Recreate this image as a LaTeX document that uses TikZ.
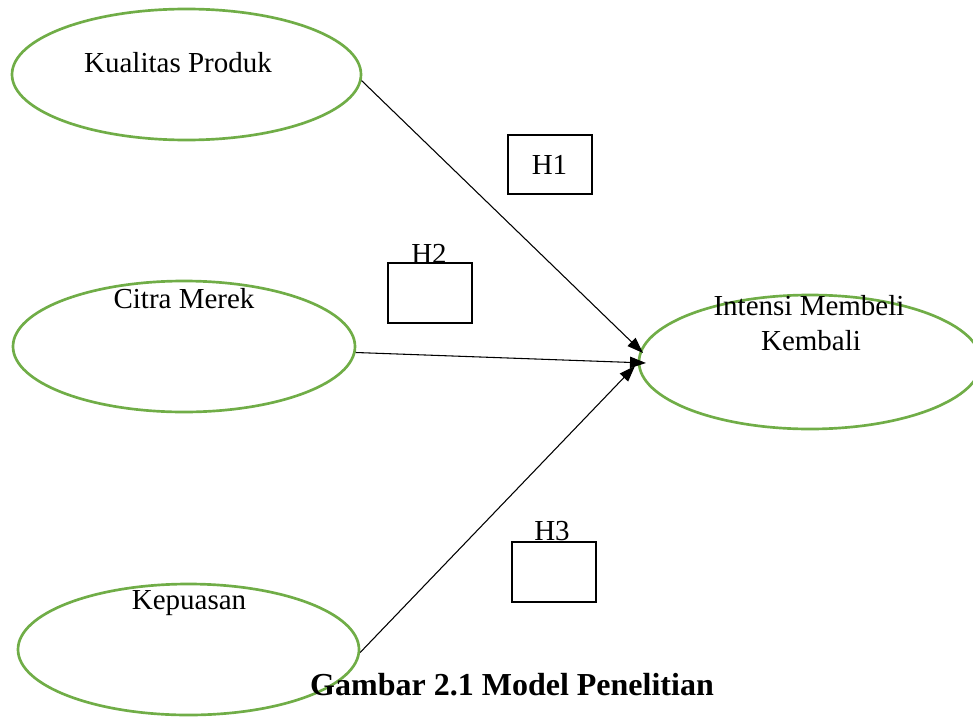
\documentclass[tikz,border=0pt]{standalone}
\usepackage{fontspec}
\setmainfont{Liberation Serif}
\usetikzlibrary{shapes.geometric,arrows.meta}
\definecolor{ovalgreen}{HTML}{70AD47}
\tikzset{
  oval/.style={ellipse,draw=ovalgreen,line width=2pt,inner sep=0pt},
  lbl/.style={anchor=base,inner sep=0pt,font=\fontsize{21.75}{26.25}\selectfont},
  hbox/.style={draw=black,line width=1.5pt,inner sep=0pt,minimum width=84*0.75pt,minimum height=59*0.75pt,font=\fontsize{21.75}{26.25}\selectfont},
  arr/.style={draw=black,line width=0.8pt,-{Triangle[length=12pt,width=8.5pt]}},
  captionstyle/.style={anchor=base,inner sep=0pt,font=\fontsize{24}{28}\selectfont\bfseries}
}
\begin{document}
\begin{tikzpicture}[x=0.75pt,y=-0.75pt]
\useasboundingbox (0,0) rectangle (973,717);
% ovals
\node[oval,minimum width=349*0.75pt,minimum height=131*0.75pt] (kp) at (186.5,74.5) {};
\node[oval,minimum width=342*0.75pt,minimum height=131*0.75pt] (cm) at (184,346.5) {};
\node[oval,minimum width=341*0.75pt,minimum height=131*0.75pt] (kep) at (188.5,649.5) {};
\node[oval,minimum width=342*0.75pt,minimum height=134*0.75pt] (im) at (810,362) {};
% labels
\node[lbl] (tkp) at (178,73) {Kualitas Produk};
\node[lbl] (tcm) at (184,308) {Citra Merek};
\node[lbl] (tkep) at (189,609) {Kepuasan};
\node[lbl] (tim1) at (809,315) {Intensi Membeli};
\node[lbl] (tim2) at (811,350) {Kembali};
% hypothesis boxes
\node[hbox] (h1) at (549.5,164.5) {H1};
\node[hbox,minimum height=60*0.75pt] (h2) at (430,293) {};
\node[hbox,minimum height=60*0.75pt] (h3) at (554,572) {};
\node[lbl] (th2) at (429,263) {H2};
\node[lbl] (th3) at (552,540) {H3};
% arrow tips
\coordinate (t1) at (643,353);
\coordinate (t2) at (646,363);
\coordinate (t3) at (635,366);
\draw[arr] (kp.-2) -- (t1);
\draw[arr] (cm.-2) -- (t2);
\draw[arr] (kep.-1) -- (t3);
% caption
\node[captionstyle] (caption) at (512,695) {Gambar 2.1 Model Penelitian};
\end{tikzpicture}
\end{document}
